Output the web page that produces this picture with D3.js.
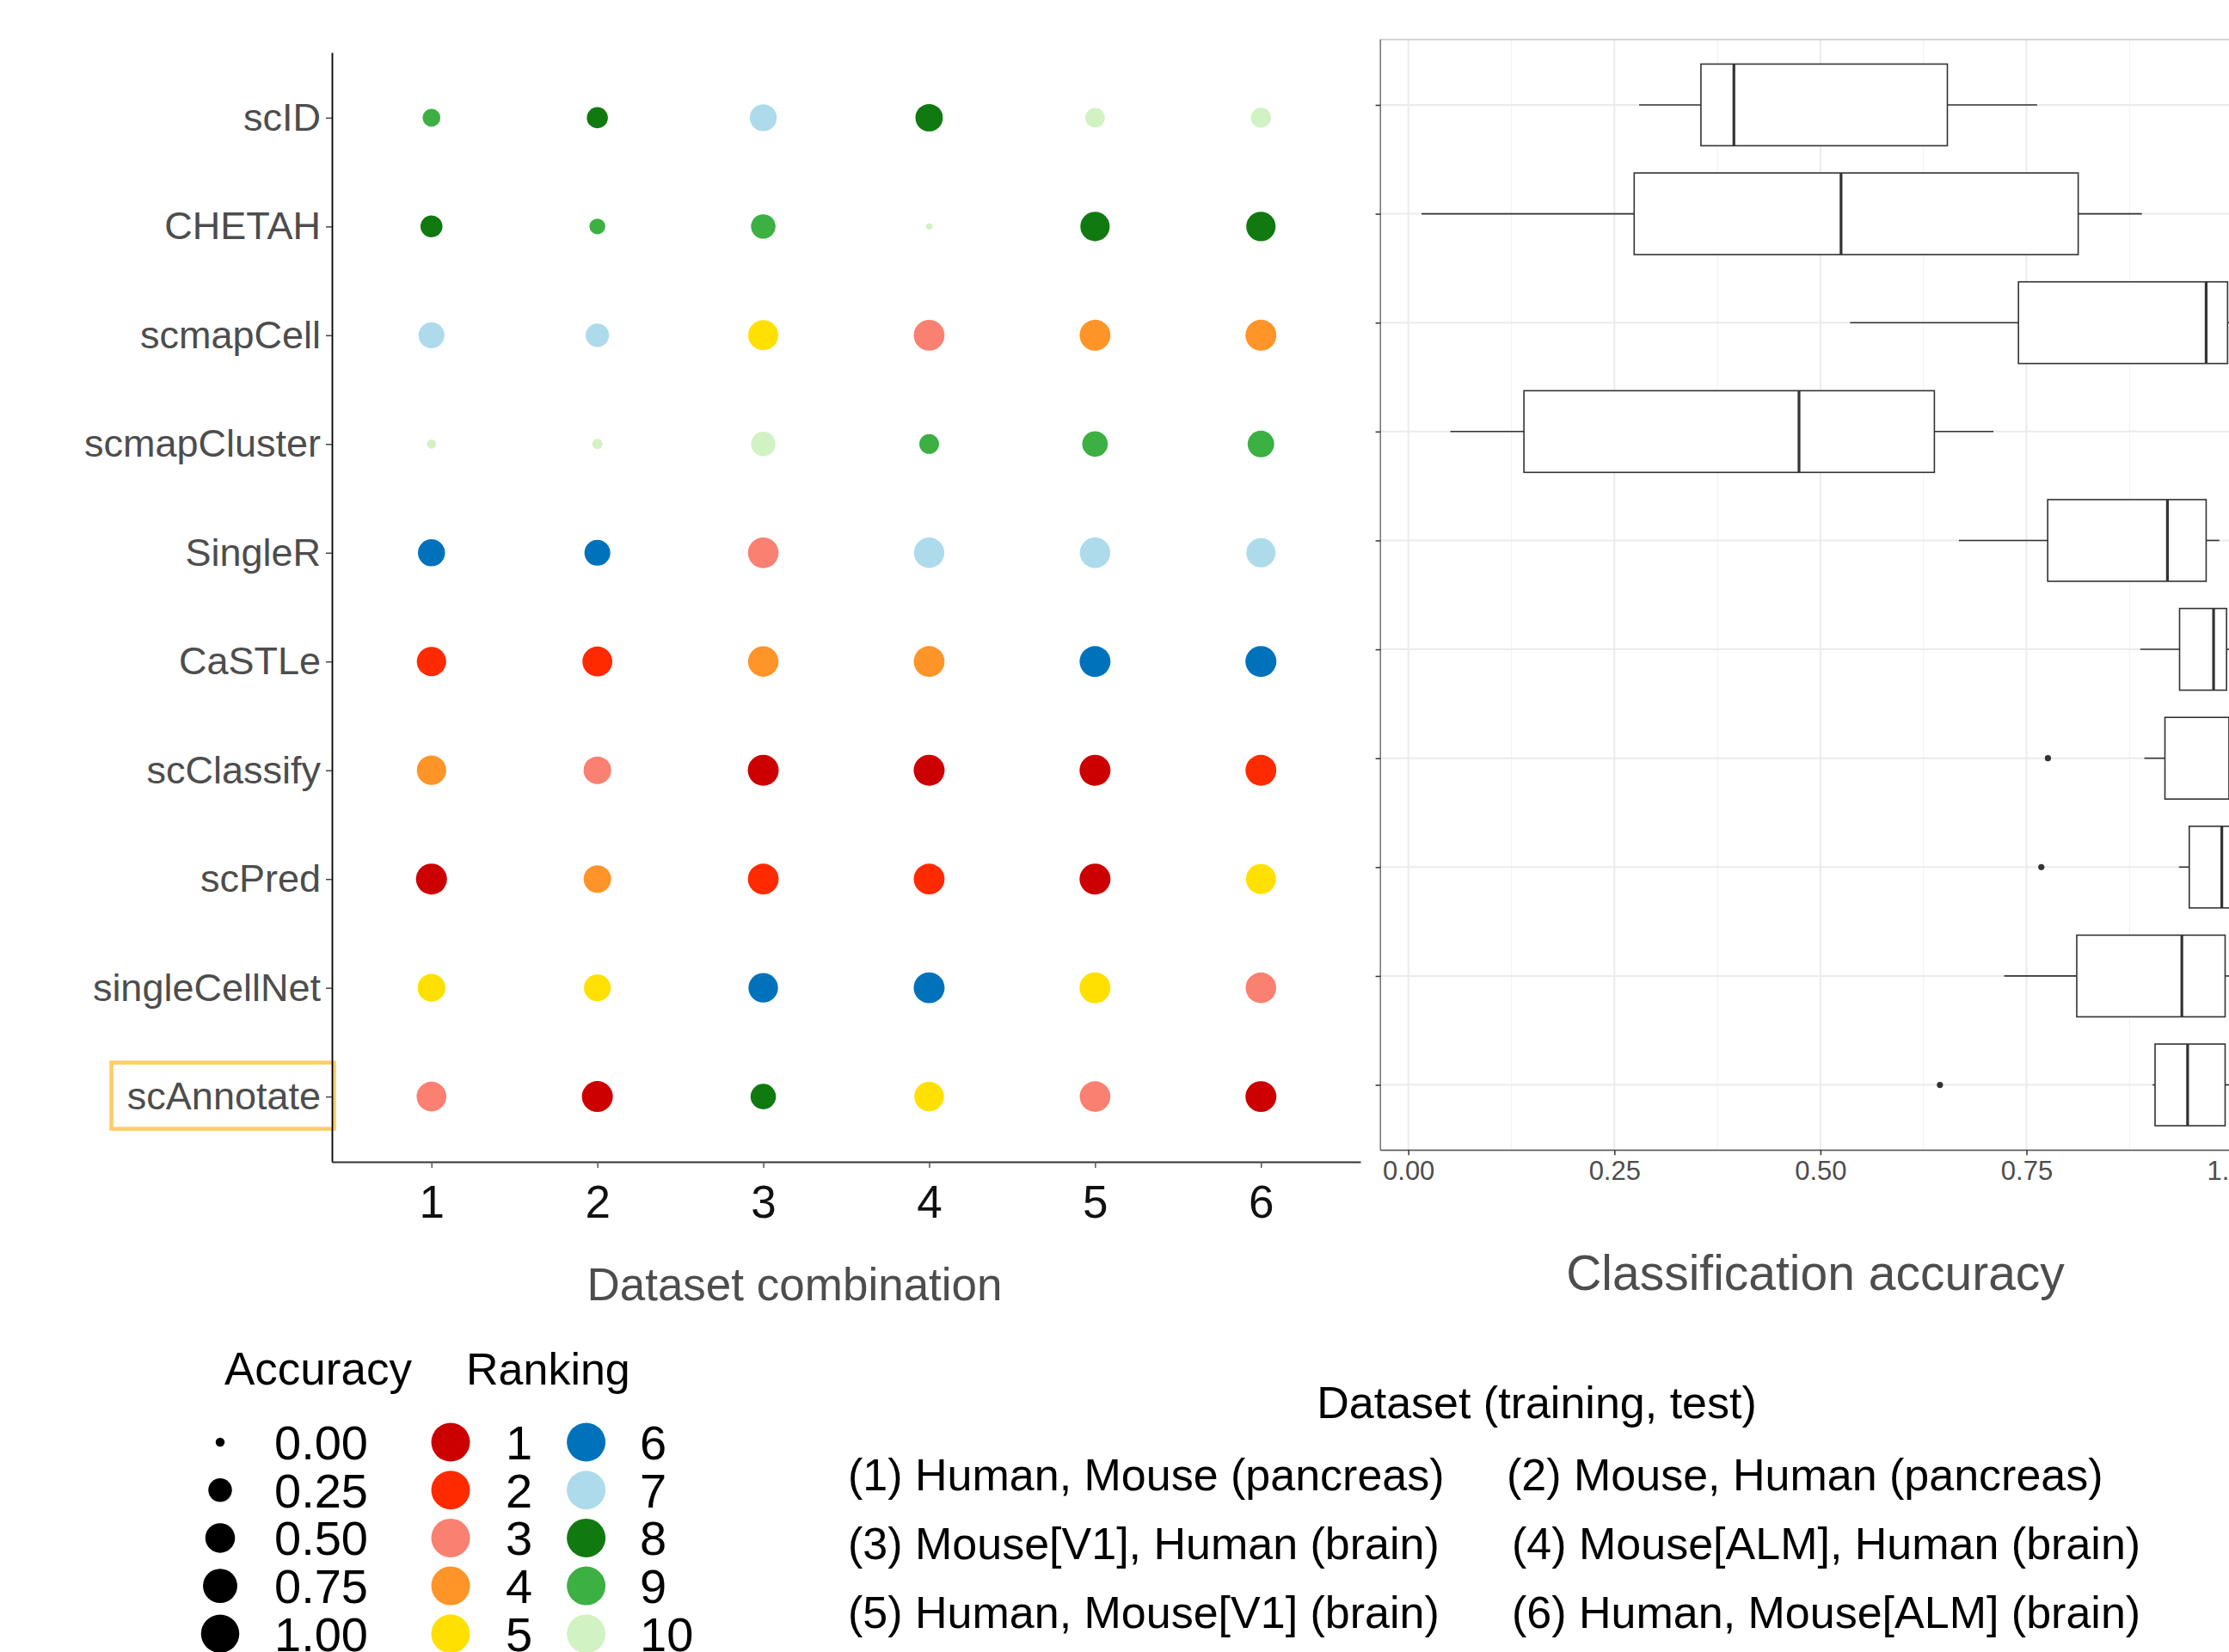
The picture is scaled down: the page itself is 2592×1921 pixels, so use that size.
<!DOCTYPE html>
<html>
<head>
<meta charset="utf-8">
<script src="https://cdn.jsdelivr.net/npm/d3@7"></script>
<style>
  body{margin:0;background:#fff;overflow:hidden}
  text{font-family:"Liberation Sans",Arial,sans-serif}
</style>
</head>
<body>
<div id="chart"></div>
<script>
// methods top to bottom, dataset combinations left to right
const methods = ["scID","CHETAH","scmapCell","scmapCluster","SingleR","CaSTLe","scClassify","scPred","singleCellNet","scAnnotate"]
const datasets = [1,2,3,4,5,6]

// classification accuracy (rows = methods, cols = dataset 1..6)
const accuracy = [
  [0.280, 0.420, 0.732, 0.763, 0.350, 0.370],
  [0.460, 0.212, 0.590, 0.016, 0.887, 0.890],
  [0.672, 0.536, 0.945, 0.991, 0.995, 1.000],
  [0.051, 0.067, 0.588, 0.360, 0.655, 0.710],
  [0.741, 0.668, 0.984, 0.962, 0.970, 0.880],
  [0.888, 0.926, 0.965, 0.989, 0.994, 1.000],
  [0.893, 0.776, 1.000, 1.000, 1.000, 0.993],
  [1.000, 0.768, 0.985, 0.989, 1.000, 0.935],
  [0.780, 0.723, 0.904, 0.997, 1.000, 0.973],
  [0.915, 1.000, 0.645, 0.903, 0.976, 0.996]
]

// ranking shown by colour
const ranking = [
  [9, 8, 7, 8, 10, 10],
  [8, 9, 9, 10, 8, 8],
  [7, 7, 5, 3, 4, 4],
  [10, 10, 10, 9, 9, 9],
  [6, 6, 3, 7, 7, 7],
  [2, 2, 4, 4, 6, 6],
  [4, 3, 1, 1, 1, 2],
  [1, 4, 2, 2, 1, 5],
  [5, 5, 6, 6, 5, 3],
  [3, 1, 8, 5, 3, 1]
]

const rankLevels = [1,2,3,4,5,6,7,8,9,10]
const rankColors = ["#CC0000","#FF2A00","#FA8072","#FF9428","#FFE000","#0072BB","#ADDBEB","#107A10","#3CB043","#D1F2C3"]
const accTicks = [0, 0.25, 0.5, 0.75, 1]
const sizeBreaks = [0, 0.25, 0.5, 0.75, 1]
const datasetLabels = [
  "(1) Human, Mouse (pancreas)", "(2) Mouse, Human (pancreas)",
  "(3) Mouse[V1], Human (brain)", "(4) Mouse[ALM], Human (brain)",
  "(5) Human, Mouse[V1] (brain)", "(6) Human, Mouse[ALM] (brain)"
]

const W = 2592, H = 1921
const svg = d3.select("#chart").append("svg")
    .attr("width", W).attr("height", H)

// ---------------- DOT PLOT ----------------
const x = d3.scalePoint().domain(datasets).range([386, 1582]).padding(0.6)
const y = d3.scalePoint().domain(methods).range([61, 1351]).padding(0.6)
const r = d3.scaleSqrt().domain([0, 1]).range([1.7, 18])
const color = d3.scaleOrdinal().domain(rankLevels).range(rankColors)

const cells = []
methods.forEach((m, i) => {
  datasets.forEach((d, j) => {
    cells.push({method: m, dataset: d, acc: accuracy[i][j], rank: ranking[i][j]})
  })
})

// highlight box behind scAnnotate label
svg.append("rect")
    .attr("x", 129.5).attr("y", y("scAnnotate") - 39.5)
    .attr("width", 259).attr("height", 77)
    .attr("fill", "none").attr("stroke", "#FFCC66").attr("stroke-width", 4.5)

svg.append("g").selectAll("circle")
    .data(cells)
    .join("circle")
    .attr("cx", d => x(d.dataset))
    .attr("cy", d => y(d.method))
    .attr("r", d => r(d.acc))
    .attr("fill", d => color(d.rank))

const yAxisG = svg.append("g")
    .attr("transform", "translate(386,0)")
    .call(d3.axisLeft(y).tickSize(7).tickSizeOuter(0).tickPadding(6))
yAxisG.attr("font-family", null).attr("font-size", 45)
yAxisG.select(".domain").attr("stroke", "#000").attr("stroke-width", 1.8)
yAxisG.selectAll(".tick line").attr("stroke", "#444").attr("stroke-width", 1.5)
yAxisG.selectAll(".tick text").attr("fill", "#4d4d4d")

const xAxisG = svg.append("g")
    .attr("transform", "translate(0,1351)")
    .call(d3.axisBottom(x).tickSize(7).tickSizeOuter(0).tickPadding(20))
xAxisG.attr("font-family", null).attr("font-size", 53)
xAxisG.select(".domain").attr("stroke", "#333").attr("stroke-width", 1.8)
xAxisG.selectAll(".tick line").attr("stroke", "#555").attr("stroke-width", 1.5)
xAxisG.selectAll(".tick text").attr("fill", "#111")

svg.append("text")
    .attr("x", 924).attr("y", 1512)
    .attr("text-anchor", "middle").attr("font-size", 53).attr("fill", "#4d4d4d")
    .text("Dataset combination")

// ---------------- BOX PLOT ----------------
const bx = d3.scaleLinear().domain([0, 1]).range([1637.7, 2596.1])
const by = d3.scalePoint().domain(methods).range([46, 1337.5]).padding(0.6)
const boxH = by.step() * 0.75
const panel = {left: 1605.3, top: 46, bottom: 1337.5, right: 2645}

const stats = methods.map((m, i) => {
  let v = accuracy[i].slice().sort(d3.ascending)
  let q1 = d3.quantile(v, 0.25), med = d3.quantile(v, 0.5), q3 = d3.quantile(v, 0.75)
  let iqr = q3 - q1
  let inside = v.filter(a => a >= q1 - 1.5 * iqr && a <= q3 + 1.5 * iqr)
  return {method: m, q1: q1, med: med, q3: q3,
    lo: d3.min(inside), hi: d3.max(inside),
    out: v.filter(a => a < q1 - 1.5 * iqr || a > q3 + 1.5 * iqr)}
})

const grid = svg.append("g")
const minor = d3.range(0.125, 1.1, 0.25)
grid.selectAll(".minor").data(minor).join("line")
    .attr("x1", d => bx(d)).attr("x2", d => bx(d))
    .attr("y1", panel.top).attr("y2", panel.bottom)
    .attr("stroke", "#f3f3f3").attr("stroke-width", 1.2)
grid.selectAll(".major").data(accTicks).join("line")
    .attr("x1", d => bx(d)).attr("x2", d => bx(d))
    .attr("y1", panel.top).attr("y2", panel.bottom)
    .attr("stroke", "#ebebeb").attr("stroke-width", 2)
grid.selectAll(".hmajor").data(methods).join("line")
    .attr("x1", panel.left).attr("x2", panel.right)
    .attr("y1", d => by(d)).attr("y2", d => by(d))
    .attr("stroke", "#ebebeb").attr("stroke-width", 2)

svg.append("rect")
    .attr("x", panel.left).attr("y", panel.top)
    .attr("width", panel.right - panel.left).attr("height", panel.bottom - panel.top)
    .attr("fill", "none").attr("stroke", "#c8c8c8").attr("stroke-width", 1.5)
svg.append("line")
    .attr("x1", panel.left).attr("x2", panel.left)
    .attr("y1", panel.top).attr("y2", panel.bottom)
    .attr("stroke", "#7a7a7a").attr("stroke-width", 1.5)

const boxes = svg.append("g").selectAll("g")
    .data(stats)
    .join("g")
    .attr("transform", d => `translate(0,${by(d.method)})`)

boxes.append("line")
    .attr("x1", d => bx(d.lo)).attr("x2", d => bx(d.q1))
    .attr("stroke", "#333").attr("stroke-width", 1.6)
boxes.append("line")
    .attr("x1", d => bx(d.q3)).attr("x2", d => bx(d.hi))
    .attr("stroke", "#333").attr("stroke-width", 1.6)
boxes.append("rect")
    .attr("x", d => bx(d.q1)).attr("y", -boxH / 2)
    .attr("width", d => bx(d.q3) - bx(d.q1)).attr("height", boxH)
    .attr("fill", "#fff").attr("stroke", "#333").attr("stroke-width", 1.6)
boxes.append("line")
    .attr("x1", d => bx(d.med)).attr("x2", d => bx(d.med))
    .attr("y1", -boxH / 2).attr("y2", boxH / 2)
    .attr("stroke", "#333").attr("stroke-width", 3.2)
boxes.selectAll("circle")
    .data(d => d.out)
    .join("circle")
    .attr("cx", d => bx(d)).attr("r", 3.6).attr("fill", "#333")

const byAxis = svg.append("g")
    .attr("transform", `translate(${panel.left},0)`)
    .call(d3.axisLeft(by).tickSize(5.7).tickSizeOuter(0).tickFormat(""))
byAxis.select(".domain").remove()
byAxis.selectAll(".tick line").attr("stroke", "#333").attr("stroke-width", 1.5)

const bxAxis = svg.append("g")
    .attr("transform", `translate(0,${panel.bottom})`)
    .call(d3.axisBottom(bx).tickValues(accTicks).tickFormat(d3.format(".2f"))
      .tickSize(5.7).tickSizeOuter(0).tickPadding(7))
bxAxis.attr("font-family", null).attr("font-size", 31)
bxAxis.select(".domain").attr("d", `M${panel.left},0H${panel.right}`)
    .attr("stroke", "#555").attr("stroke-width", 1.6)
bxAxis.selectAll(".tick line").attr("stroke", "#333").attr("stroke-width", 1.5)
bxAxis.selectAll(".tick text").attr("fill", "#4d4d4d")

svg.append("text")
    .attr("x", 2111).attr("y", 1500)
    .attr("text-anchor", "middle").attr("font-size", 57).attr("fill", "#4d4d4d")
    .text("Classification accuracy")

// ---------------- LEGENDS ----------------
const leg = svg.append("g")
const legRowY = i => 1677 + i * 55.7
const legR = d3.scaleSqrt().domain([0, 1]).range([5.25, 22.25])

leg.append("text").attr("x", 261).attr("y", 1610).attr("font-size", 53).text("Accuracy")
leg.append("text").attr("x", 542).attr("y", 1610).attr("font-size", 52).text("Ranking")

leg.selectAll(".sz").data(sizeBreaks).join("circle")
    .attr("cx", 256).attr("cy", (d, i) => legRowY(i))
    .attr("r", d => legR(d)).attr("fill", "#000")
leg.selectAll(".szl").data(sizeBreaks).join("text")
    .attr("x", 319).attr("y", (d, i) => legRowY(i) + 20)
    .attr("font-size", 56).text(d => d3.format(".2f")(d))

leg.selectAll(".rk").data(rankLevels).join("circle")
    .attr("cx", (d, i) => i < 5 ? 524 : 681.6)
    .attr("cy", (d, i) => legRowY(i % 5))
    .attr("r", 22.5).attr("fill", d => color(d))
leg.selectAll(".rkl").data(rankLevels).join("text")
    .attr("x", (d, i) => i < 5 ? 588 : 744)
    .attr("y", (d, i) => legRowY(i % 5) + 20)
    .attr("font-size", 56).text(d => d)

leg.append("text").attr("x", 1787).attr("y", 1649)
    .attr("text-anchor", "middle").attr("font-size", 52)
    .text("Dataset (training, test)")

const colX = [[986, 1752], [986, 1758], [986, 1758]]
leg.selectAll(".ds").data(datasetLabels).join("text")
    .attr("x", (d, i) => colX[Math.floor(i / 2)][i % 2])
    .attr("y", (d, i) => 1733 + Math.floor(i / 2) * 80)
    .attr("font-size", 52)
    .text(d => d)
</script>
</body>
</html>
